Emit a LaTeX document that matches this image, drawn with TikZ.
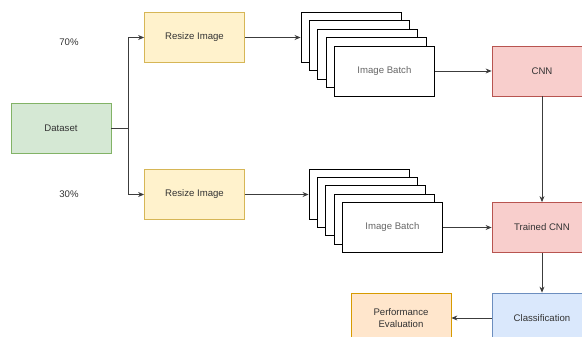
\documentclass[tikz,border=0pt]{standalone}
\usepackage{fontspec}
\setmainfont{Liberation Sans}
\usetikzlibrary{arrows.meta}
\definecolor{edgegray}{HTML}{3C3C3C}
\definecolor{txtgray}{HTML}{333333}
\definecolor{greenfill}{HTML}{D5E8D4}\definecolor{greenline}{HTML}{82B366}
\definecolor{yellowfill}{HTML}{FFF2CC}\definecolor{yellowline}{HTML}{D6B656}
\definecolor{redfill}{HTML}{F8CECC}\definecolor{redline}{HTML}{B85450}
\definecolor{bluefill}{HTML}{DAE8FC}\definecolor{blueline}{HTML}{6C8EBF}
\definecolor{orangefill}{HTML}{FFE6CC}\definecolor{orangeline}{HTML}{D79B00}
\begin{document}
\begin{tikzpicture}[x=1pt,y=-1pt,
  box/.style={draw, line width=0.8pt, minimum width=100pt, minimum height=50pt,
    inner sep=0pt, font=\fontsize{9.6}{11.5}\selectfont, text=txtgray, align=center},
  greenbox/.style={box, fill=greenfill, draw=greenline},
  yellowbox/.style={box, fill=yellowfill, draw=yellowline},
  redbox/.style={box, fill=redfill, draw=redline},
  bluebox/.style={box, fill=bluefill, draw=blueline},
  orangebox/.style={box, fill=orangefill, draw=orangeline},
  sheet/.style={box, fill=white, draw=black, line width=0.9pt, text=black!60},
  arr/.style={draw=edgegray, line width=0.8pt, -{Stealth[length=6pt,width=5pt]}},
  ln/.style={draw=edgegray, line width=0.8pt},
  pct/.style={font=\fontsize{9.6}{11.5}\selectfont, text=txtgray}
]
\useasboundingbox (0,0) rectangle (582,337);

% input data and split
\node[greenbox] (ds) at (61,128) {Dataset};
\coordinate (jn) at (128,128);
\node[pct] (p70) at (69,42) {70\%};
\node[pct] (p30) at (69,194) {30\%};

% resizing stage
\node[yellowbox] (rz1) at (194.5,37.5) {Resize Image};
\node[yellowbox] (rz2) at (194.5,194.5) {Resize Image};

% upper image stack
\foreach \i in {0,...,3}
  \node[sheet] (ta\i) at ({351+8.35*\i},{37.5+8.35*\i}) {};
\node[sheet] (ta4) at (384.4,71) {Image Batch};

% lower image stack
\foreach \i in {0,...,3}
  \node[sheet] (tb4\i) at ({359+8.35*\i},{194+8.35*\i}) {};
\node[sheet] (tb4) at (392.4,227.5) {Image Batch};

% network and evaluation
\node[redbox] (cnn) at (542,71) {CNN};
\node[redbox] (tcnn) at (542,227.5) {Trained CNN};
\node[bluebox] (cls) at (542,318) {Classification};
\node[orangebox] (pe) at (401,318) {Performance\\Evaluation};

% connectors
\draw[ln] (ds.east) -- (jn);
\draw[arr] (jn) |- (rz1.west);
\draw[arr] (jn) |- (rz2.west);
\draw[arr] (rz1.east) -- (rz1.east -| ta0.west);
\draw[arr] (rz2.east) -- (rz2.east -| tb40.west);
\draw[arr] (ta4.east) -- (cnn.west);
\draw[arr] (tb4.east) -- (tcnn.west);
\draw[arr] (cnn.south) -- (tcnn.north);
\draw[arr] (tcnn.south) -- (cls.north);
\draw[arr] (cls.west) -- (pe.east);
\end{tikzpicture}
\end{document}
